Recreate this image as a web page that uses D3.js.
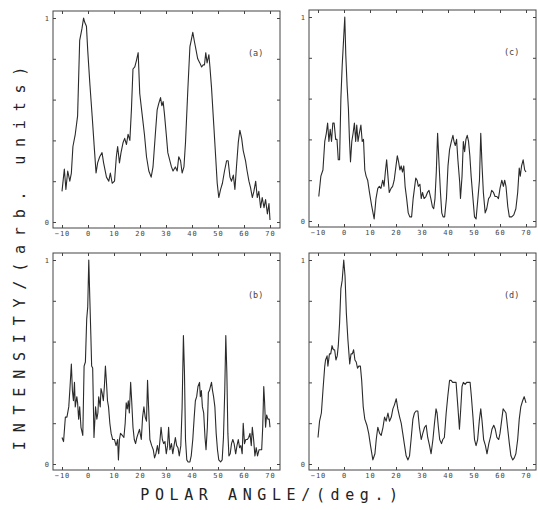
<!DOCTYPE html>
<html><head><meta charset="utf-8">
<script src="https://cdn.jsdelivr.net/npm/d3@7"></script>
<style>
html,body{margin:0;padding:0;background:#fff;}
svg{display:block;}
</style></head>
<body>
<svg id="chart" width="538" height="510"></svg>
<script>
// ---- data ----
const xTicks = [-10, 0, 10, 20, 30, 40, 50, 60, 70];
const yTicks = [0, 0.2, 0.4, 0.6, 0.8, 1];
const yTickLabels = {0: "0", 1: "1"};
const panelLabels = ["(a)", "(b)", "(c)", "(d)"];
const xTitle = "POLAR ANGLE/(deg.)";
const yTitle = "INTENSITY/(arb. units)";

const aX = [-10,-9.1,-8.5,-7.8,-7.0,-6.4,-5.8,-4.9,-4.0,-3.2,-2.6,-2.3,-1.7,-1.3,-0.6,-0.1,0.7,1.6,2.5,3.1,3.7,4.5,5.4,6.0,7.1,8.0,8.6,9.3,10.2,10.9,11.4,12.1,12.7,13.5,14.1,14.8,15.4,16.1,16.7,17.3,18.0,18.6,19.3,19.9,20.8,21.7,22.5,23.4,24.3,25.0,25.9,26.6,27.2,27.9,28.4,28.9,29.4,30.1,30.7,31.5,32.1,32.7,33.6,34.3,34.9,35.6,36.2,36.9,37.5,38.4,39.2,39.7,40.3,41.0,41.6,42.2,43.0,43.7,44.3,44.8,45.3,45.8,46.5,46.9,47.5,48.4,49.1,49.7,50.3,51.0,51.7,52.5,53.3,53.9,54.6,55.2,55.9,56.5,57.1,57.8,58.4,59.1,59.7,60.6,61.2,61.9,62.5,63.2,63.8,64.5,65.1,65.7,66.4,67.0,67.7,68.3,69.0,69.6,70.0];
const aY = [0.15,0.26,0.16,0.25,0.20,0.24,0.37,0.43,0.52,0.89,0.93,0.95,1.0,0.98,0.96,0.84,0.68,0.52,0.35,0.24,0.29,0.32,0.34,0.29,0.22,0.20,0.24,0.19,0.20,0.32,0.37,0.29,0.34,0.39,0.41,0.38,0.43,0.40,0.55,0.75,0.76,0.79,0.83,0.63,0.53,0.43,0.32,0.25,0.22,0.27,0.43,0.55,0.58,0.61,0.57,0.59,0.53,0.43,0.34,0.30,0.27,0.25,0.27,0.25,0.32,0.30,0.24,0.27,0.39,0.65,0.86,0.89,0.93,0.88,0.84,0.80,0.78,0.76,0.77,0.77,0.83,0.78,0.82,0.76,0.66,0.47,0.32,0.19,0.12,0.16,0.19,0.25,0.30,0.30,0.22,0.20,0.23,0.16,0.27,0.39,0.45,0.41,0.35,0.30,0.25,0.20,0.17,0.12,0.15,0.20,0.12,0.15,0.07,0.12,0.07,0.11,0.04,0.09,0.01];

const bX = [-10.0,-9.4,-8.7,-8.1,-7.4,-6.9,-6.4,-6.0,-5.6,-5.2,-4.9,-4.3,-4.0,-3.6,-3.2,-2.7,-2.0,-1.5,-1.0,-0.5,-0.1,0.3,0.7,1.1,1.4,1.8,2.3,2.9,3.4,3.8,4.1,4.7,5.0,5.4,5.9,6.3,6.7,7.1,7.5,7.9,8.4,8.9,9.5,10.2,10.8,11.4,11.7,12.1,12.5,13.2,13.8,14.3,14.7,15.1,15.5,15.9,16.4,16.8,17.3,17.8,18.3,18.8,19.3,19.8,20.5,21.0,21.5,22.0,22.5,22.9,23.3,23.8,24.5,25.1,25.6,26.1,26.7,27.2,27.7,28.1,28.6,29.1,29.6,30.1,30.6,31.0,31.5,32.1,32.6,33.1,33.6,34.1,34.6,35.1,35.7,36.2,36.7,37.1,37.5,38.0,38.5,39.2,39.7,40.3,40.8,41.3,41.8,42.3,42.9,43.2,43.6,44.0,44.5,45.0,45.4,45.9,46.3,46.7,47.1,47.5,47.9,48.3,48.8,49.3,49.8,50.3,51.0,51.6,52.1,52.6,53.0,53.4,53.8,54.2,54.7,55.2,55.7,56.2,56.8,57.3,57.8,58.3,58.8,59.3,59.7,60.2,60.7,61.3,61.8,62.3,62.8,63.2,63.7,64.2,64.7,65.2,65.8,66.3,66.8,67.2,67.6,67.9,68.3,68.7,69.2,69.7,70.0];
const bY = [0.13,0.11,0.23,0.23,0.28,0.38,0.49,0.36,0.31,0.40,0.28,0.33,0.30,0.22,0.28,0.18,0.14,0.48,0.50,0.71,0.77,1.0,0.81,0.63,0.48,0.47,0.13,0.28,0.22,0.25,0.33,0.28,0.37,0.35,0.31,0.38,0.48,0.40,0.31,0.28,0.20,0.15,0.12,0.12,0.09,0.12,0.02,0.12,0.15,0.14,0.13,0.20,0.30,0.27,0.31,0.25,0.40,0.31,0.18,0.12,0.10,0.13,0.15,0.17,0.12,0.23,0.28,0.23,0.21,0.41,0.28,0.12,0.09,0.07,0.03,0.05,0.09,0.05,0.12,0.18,0.12,0.10,0.11,0.05,0.09,0.18,0.07,0.10,0.05,0.09,0.13,0.09,0.08,0.04,0.09,0.28,0.63,0.45,0.12,0.02,0.01,0.01,0.04,0.12,0.22,0.31,0.33,0.38,0.40,0.33,0.36,0.28,0.25,0.13,0.07,0.18,0.35,0.36,0.38,0.40,0.36,0.33,0.28,0.15,0.07,0.02,0.01,0.02,0.13,0.36,0.63,0.45,0.15,0.04,0.05,0.10,0.12,0.10,0.05,0.09,0.12,0.08,0.09,0.05,0.20,0.10,0.12,0.12,0.13,0.15,0.09,0.18,0.12,0.04,0.08,0.04,0.07,0.07,0.07,0.18,0.38,0.31,0.18,0.24,0.22,0.22,0.18];

const cX = [-9.7,-8.9,-8.1,-7.4,-6.8,-6.3,-5.8,-5.3,-4.8,-4.3,-3.8,-3.2,-2.7,-2.2,-1.7,-1.2,-0.7,-0.2,0.3,0.7,1.2,1.7,2.1,2.5,3.0,3.5,4.0,4.5,4.9,5.4,5.9,6.5,7.0,7.5,8.0,8.5,9.1,9.8,10.7,11.6,12.3,13.0,13.6,14.2,14.9,15.4,15.9,16.4,16.9,17.4,18.1,18.7,19.3,20.0,20.5,21.0,21.5,22.0,22.5,23.0,23.5,24.1,24.7,25.3,26.0,26.6,27.1,27.6,28.1,28.6,29.2,29.7,30.2,30.8,31.5,32.1,32.7,33.4,34.0,34.5,35.0,35.5,36.0,36.6,37.1,37.6,38.1,38.7,39.4,40.0,40.6,41.3,41.9,42.3,42.8,43.3,43.8,44.5,44.8,45.4,45.9,46.4,46.9,47.4,47.9,48.4,48.9,49.6,50.2,50.8,51.5,52.1,52.6,53.1,53.6,54.3,54.9,55.6,56.2,56.8,57.5,58.1,58.8,59.4,60.0,60.7,61.3,61.8,62.3,63.0,63.6,64.5,65.3,66.1,66.8,67.4,67.8,68.3,68.9,69.5,70.0];
const cY = [0.12,0.22,0.25,0.39,0.43,0.48,0.39,0.45,0.39,0.48,0.48,0.40,0.40,0.30,0.30,0.60,0.76,0.88,1.0,0.81,0.66,0.55,0.40,0.29,0.39,0.43,0.48,0.39,0.47,0.39,0.43,0.47,0.39,0.40,0.25,0.22,0.20,0.14,0.07,0.01,0.11,0.16,0.17,0.16,0.20,0.17,0.24,0.30,0.22,0.14,0.16,0.17,0.20,0.27,0.32,0.29,0.25,0.27,0.24,0.27,0.17,0.11,0.04,0.02,0.02,0.11,0.16,0.21,0.20,0.17,0.18,0.11,0.14,0.11,0.12,0.14,0.15,0.11,0.07,0.06,0.11,0.24,0.43,0.27,0.14,0.04,0.02,0.02,0.11,0.27,0.35,0.39,0.42,0.39,0.37,0.40,0.30,0.19,0.11,0.22,0.39,0.34,0.40,0.42,0.39,0.32,0.22,0.11,0.02,0.01,0.11,0.20,0.43,0.27,0.14,0.04,0.06,0.11,0.12,0.15,0.14,0.12,0.12,0.11,0.16,0.20,0.17,0.20,0.17,0.07,0.02,0.02,0.03,0.06,0.14,0.26,0.22,0.27,0.30,0.25,0.24];

const dX = [-10.0,-9.4,-8.7,-8.1,-7.4,-7.1,-6.5,-6.2,-5.6,-5.1,-4.6,-4.1,-3.6,-3.1,-2.6,-2.2,-1.7,-1.2,-0.7,-0.1,0.4,0.9,1.5,2.2,2.7,3.2,3.7,4.2,4.7,5.2,5.7,6.3,6.8,7.4,8.0,8.8,9.5,10.2,11.1,11.9,12.4,13.0,13.7,14.3,15.0,15.6,16.2,16.9,17.5,18.2,18.8,19.4,20.1,20.7,21.4,22.0,22.6,23.3,23.9,24.6,25.2,25.8,26.5,27.1,27.8,28.4,29.0,29.7,30.3,31.0,31.6,32.2,32.9,33.5,34.2,34.8,35.4,35.8,36.3,36.8,37.5,38.0,38.6,39.3,39.9,40.6,41.2,41.8,42.5,43.1,43.8,44.4,44.9,45.4,45.9,46.6,47.2,47.9,48.5,49.0,49.6,50.2,50.8,51.4,52.1,52.6,53.1,53.7,54.4,55.0,55.7,56.3,56.9,57.6,58.2,58.8,59.5,60.0,60.7,61.2,61.8,62.3,62.9,63.6,64.2,64.9,65.5,66.1,66.8,67.4,68.0,68.7,69.3,70.0];
const dY = [0.13,0.21,0.25,0.36,0.48,0.51,0.53,0.48,0.54,0.54,0.58,0.56,0.56,0.51,0.53,0.58,0.69,0.86,0.90,1.0,0.92,0.74,0.61,0.49,0.54,0.54,0.56,0.51,0.50,0.47,0.48,0.48,0.41,0.28,0.22,0.19,0.15,0.09,0.02,0.05,0.12,0.18,0.15,0.14,0.18,0.23,0.21,0.25,0.21,0.23,0.27,0.29,0.32,0.27,0.23,0.20,0.15,0.09,0.04,0.02,0.04,0.12,0.22,0.25,0.26,0.26,0.18,0.12,0.15,0.18,0.19,0.13,0.09,0.05,0.12,0.20,0.27,0.25,0.18,0.12,0.10,0.12,0.13,0.25,0.33,0.41,0.41,0.40,0.40,0.40,0.28,0.17,0.27,0.38,0.40,0.39,0.40,0.40,0.40,0.33,0.23,0.12,0.09,0.12,0.22,0.27,0.21,0.12,0.09,0.05,0.10,0.13,0.17,0.19,0.17,0.13,0.12,0.15,0.22,0.27,0.26,0.25,0.18,0.10,0.04,0.02,0.03,0.05,0.12,0.22,0.28,0.31,0.33,0.30];

const seriesX = [aX, bX, cX, dX];
const seriesY = [aY, bY, cY, dY];

// ---- layout ----
const svg = d3.select("#chart");
const ink = "#2b2b2b";
const frames = [
  {left: 53, top: 11},   // a
  {left: 53, top: 253},  // b
  {left: 309, top: 10},  // c
  {left: 309, top: 253}  // d
];
const FW = 227, FH = 217;

frames.forEach((f, i) => {
  const x = d3.scaleLinear().domain([-10, 70]).range([f.left + 9, f.left + 217]);
  const y = d3.scaleLinear().domain([0, 1]).range([f.top + 211, f.top + 7]);
  const g = svg.append("g");

  g.append("rect").attr("x", f.left).attr("y", f.top).attr("width", FW).attr("height", FH)
    .attr("fill", "none").attr("stroke", "#444").attr("stroke-width", 1);

  const bottom = g.append("g").attr("transform", `translate(0,${f.top + FH})`)
    .call(d3.axisBottom(x).tickValues(xTicks).tickSize(-3).tickPadding(3).tickFormat(d3.format("d")));
  const top = g.append("g").attr("transform", `translate(0,${f.top})`)
    .call(d3.axisTop(x).tickValues(xTicks).tickSize(-3).tickFormat(""));
  const left = g.append("g").attr("transform", `translate(${f.left},0)`)
    .call(d3.axisLeft(y).tickValues(yTicks).tickSize(-3).tickPadding(3).tickFormat(d => yTickLabels[d] || ""));
  const right = g.append("g").attr("transform", `translate(${f.left + FW},0)`)
    .call(d3.axisRight(y).tickValues(yTicks).tickSize(-3).tickFormat(""));
  [bottom, top, left, right].forEach(a => {
    a.select(".domain").remove();
    a.selectAll("line").attr("stroke", "#444");
    a.selectAll("text").attr("fill", "#444").style("font-family", "'DejaVu Sans Mono', monospace")
      .style("font-size", "7px").style("letter-spacing", "1px");
  });

  const pts = seriesX[i].map((v, k) => [v, seriesY[i][k]]);
  g.append("path").datum(pts)
    .attr("fill", "none").attr("stroke", ink).attr("stroke-width", 1.1).attr("stroke-linejoin", "round")
    .attr("d", d3.line().x(d => x(d[0])).y(d => y(d[1])));

  g.append("text").attr("x", f.left + 195).attr("y", f.top + 45)
    .attr("fill", "#444").style("font-family", "'DejaVu Sans Mono', monospace").style("font-size", "8.5px")
    .text(panelLabels[i]);
});

svg.append("text").attr("x", 272).attr("y", 500).attr("text-anchor", "middle")
  .attr("fill", "#222").style("font-family", "'DejaVu Sans Mono', monospace")
  .style("font-size", "15px").style("letter-spacing", "5.6px").text(xTitle);

svg.append("text").attr("transform", "translate(25,254) rotate(-90)").attr("text-anchor", "middle")
  .attr("fill", "#222").style("font-family", "'DejaVu Sans Mono', monospace")
  .style("font-size", "15px").style("letter-spacing", "8.8px").text(yTitle);
</script>
</body></html>
